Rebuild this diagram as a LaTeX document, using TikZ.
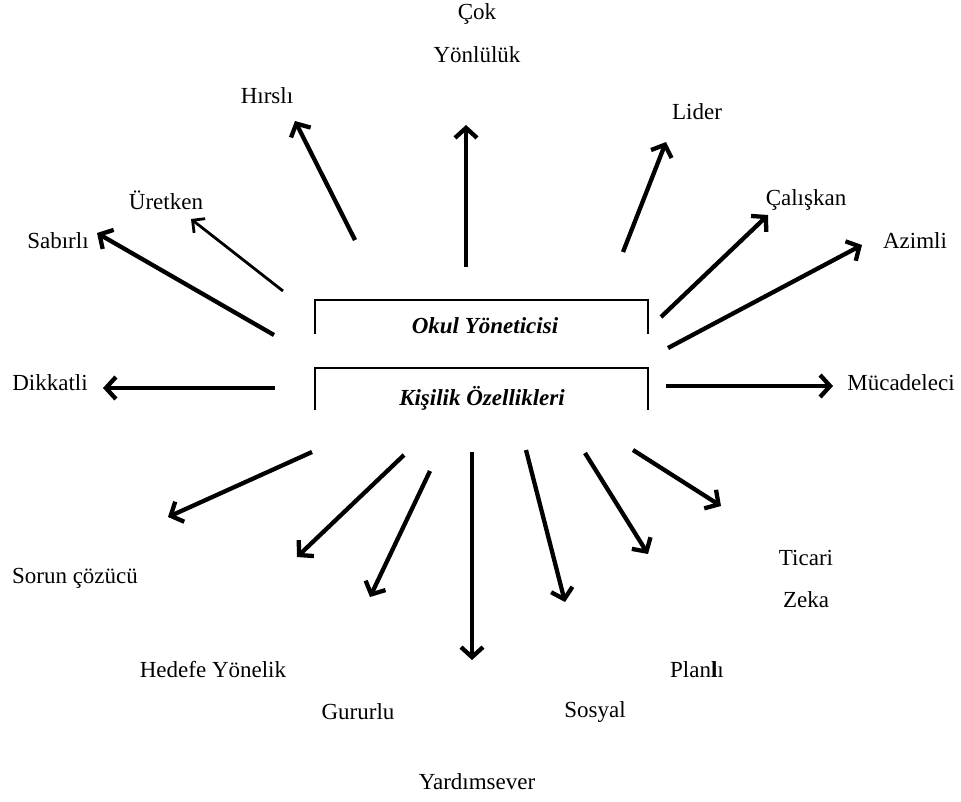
\documentclass[tikz,border=0pt]{standalone}
\usepackage{fontspec}
\setmainfont{Liberation Serif}
\usetikzlibrary{arrows.meta}
\begin{document}
\begin{tikzpicture}[x=1pt,y=-1pt,
  lbl/.style={font=\fontsize{23}{27}\selectfont, inner sep=0pt},
  ttl/.style={font=\fontsize{23}{27}\selectfont\bfseries\itshape, inner sep=0pt},
  ray/.style={line width=4.3pt, -{Straight Barb[length=10pt,width=22pt]}},
  thinray/.style={line width=2.8pt, -{Straight Barb[length=9pt,width=18pt]}},
  frame/.style={line width=2.2pt}]
\useasboundingbox (0,0) rectangle (961,801);

% central brackets with titles
\draw[frame] (315,334) |- (648,300) -- (648,334);
\draw[frame] (315,410) |- (648,368) -- (648,410);
\node[ttl] (okul) at (485,326) {Okul Yöneticisi};
\node[ttl] (kisilik) at (482,398) {Kişilik Özellikleri};

% labels
\node[lbl] (hirsli)   at (267,96)  {Hırslı};
\node[lbl] (cok)      at (477,14)  {Çok};
\node[lbl] (yonlu)    at (477,55)  {Yönlülük};
\node[lbl] (lider)    at (697,112) {Lider};
\node[lbl] (uretken)  at (166,200) {Üretken};
\node[lbl] (sabirli)  at (58,241)  {Sabırlı};
\node[lbl] (calis)    at (806,200) {Çalışkan};
\node[lbl] (azimli)   at (915,241) {Azimli};
\node[lbl] (dikkat)   at (50,383)  {Dikkatli};
\node[lbl] (mucade)   at (901,383) {Mücadeleci};
\node[lbl] (sorun)    at (75,578)  {Sorun çözücü};
\node[lbl] (hedefe)   at (213,670) {Hedefe Yönelik};
\node[lbl] (gurur)    at (358,712) {Gururlu};
\node[lbl] (yardim)   at (477,782) {Yardımsever};
\node[lbl] (sosyal)   at (595,712) {Sosyal};
\node[lbl] (planli)   at (697,670) {Plan\textbf{l}ı};
\node[lbl] (ticari)   at (806,558) {Ticari};
\node[lbl] (zeka)     at (806,600) {Zeka};

% arrow ends
\coordinate (sHirsli) at (355,240); \coordinate (tHirsli) at (295,121);
\coordinate (sCok)    at (466,267); \coordinate (tCok)    at (466,125);
\coordinate (sLider)  at (623,252); \coordinate (tLider)  at (666,142);
\coordinate (sUret)   at (283,291); \coordinate (tUret)   at (191,219);
\coordinate (sSabir)  at (274,335); \coordinate (tSabir)  at (97,233);
\coordinate (sCalis)  at (661,317); \coordinate (tCalis)  at (768,215);
\coordinate (sAzim)   at (668,348); \coordinate (tAzim)   at (862,245);
\coordinate (sDikkat) at (275,388); \coordinate (tDikkat) at (103,388);
\coordinate (sMucad)  at (666,386); \coordinate (tMucad)  at (833,386);
\coordinate (sSorun)  at (312,452); \coordinate (tSorun)  at (168,517);
\coordinate (sHedef)  at (404,455); \coordinate (tHedef)  at (297,557);
\coordinate (sGurur)  at (430,471); \coordinate (tGurur)  at (370,597);
\coordinate (sYardim) at (472,452); \coordinate (tYardim) at (472,660);
\coordinate (sSosyal) at (526,450); \coordinate (tSosyal) at (565,602);
\coordinate (sPlan)   at (585,453); \coordinate (tPlan)   at (648,554);
\coordinate (sTicari) at (633,450); \coordinate (tTicari) at (721,506);

% radiating arrows
\draw[ray] (sHirsli) -- (tHirsli);
\draw[ray] (sCok) -- (tCok);
\draw[ray] (sLider) -- (tLider);
\draw[thinray] (sUret) -- (tUret);
\draw[ray] (sSabir) -- (tSabir);
\draw[ray] (sCalis) -- (tCalis);
\draw[ray] (sAzim) -- (tAzim);
\draw[ray] (sDikkat) -- (tDikkat);
\draw[ray] (sMucad) -- (tMucad);
\draw[ray] (sSorun) -- (tSorun);
\draw[ray] (sHedef) -- (tHedef);
\draw[ray] (sGurur) -- (tGurur);
\draw[ray] (sYardim) -- (tYardim);
\draw[ray] (sSosyal) -- (tSosyal);
\draw[ray] (sPlan) -- (tPlan);
\draw[ray] (sTicari) -- (tTicari);
\end{tikzpicture}
\end{document}
